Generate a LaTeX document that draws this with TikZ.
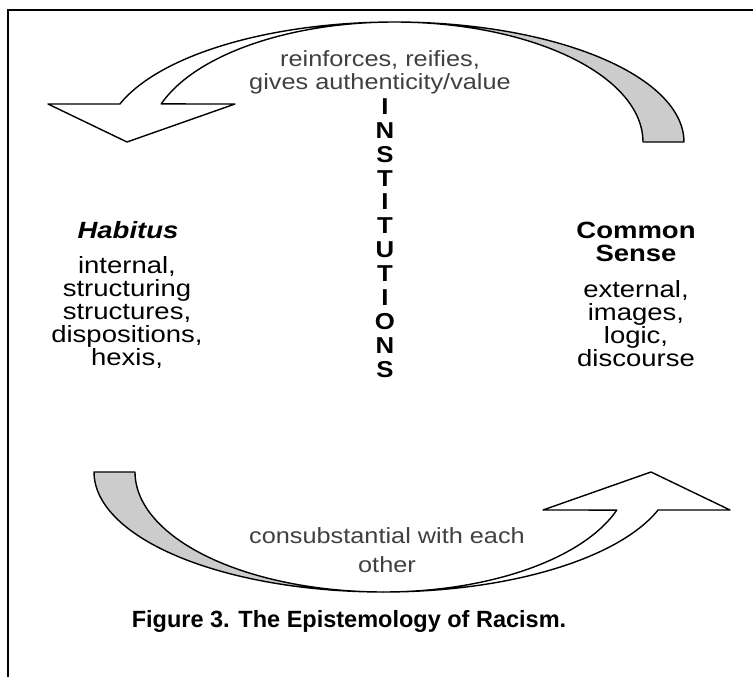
\documentclass[tikz,border=0pt]{standalone}
\usepackage{fontspec}
\setmainfont{Liberation Sans}
\definecolor{labelgray}{RGB}{64,64,64}
\definecolor{backface}{RGB}{204,204,204}
\begin{document}
\begin{tikzpicture}[x=1pt,y=-1pt,
  bodytext/.style={inner sep=0pt,align=center,xscale=1.17,font=\fontsize{23.5}{23}\selectfont},
  graylabel/.style={inner sep=0pt,align=center,xscale=1.15,text=labelgray,font=\fontsize{22}{23}\selectfont},
  bandline/.style={draw=black,line width=1.4pt,line join=round}]
\useasboundingbox (0,0) rectangle (753,677);
% frame (top and left rules)
\draw[line width=2pt] (8,677) -- (8,10) -- (753,10);

% one curved arrow: gray back strip plus white front strip with its head
\newcommand{\curvedarrow}{%
  \filldraw[bandline,fill=backface]
    plot[domain=90:0,samples=60] ({394.5+289.5*cos(\x)},{142-120*sin(\x)})
    -- (643,142)
    -- plot[domain=0:90,samples=60] ({394.5+248.5*cos(\x)},{142-120*sin(\x)});
  \filldraw[bandline,fill=white]
    (48,104) -- (120,104)
    -- plot[domain=161.5:90,samples=60] ({394.5+289.5*cos(\x)},{142-120*sin(\x)})
    -- plot[domain=90:161.5,samples=60] ({394.5+246*cos(\x)},{142-120*sin(\x)})
    -- (235,104) -- (127,142) -- cycle;}

\curvedarrow
\begin{scope}[rotate around={180:(389,307)}]
\curvedarrow
\end{scope}

% labels on the arrows
\node[graylabel] (toplabel) at (380,72) {reinforces, reifies,\\gives authenticity/value};
\node[graylabel,font=\fontsize{22}{29}\selectfont] (bottomlabel) at (387,550) {consubstantial with each\\other};

% centre column
\node[inner sep=0pt,align=center,xscale=1.12,font=\fontsize{23}{23.9}\selectfont\bfseries] (inst) at (385,238)
  {I\\N\\S\\T\\I\\T\\U\\T\\I\\O\\N\\S};

% left block
\node[bodytext,font=\fontsize{23.5}{23}\selectfont\bfseries\itshape] (habitus) at (128,230) {Habitus};
\node[bodytext] (habitustext) at (127,312) {internal,\\structuring\\structures,\\dispositions,\\hexis,};

% right block
\node[bodytext,font=\fontsize{23.5}{23}\selectfont\bfseries] (common) at (636,241.5) {Common\\Sense};
\node[bodytext] (commontext) at (636,324) {external,\\images,\\logic,\\discourse};

% caption
\node[inner sep=0pt,font=\fontsize{23.5}{26}\selectfont\bfseries] (caption) at (349,621)
  {Figure 3. The Epistemology of Racism.};
\end{tikzpicture}
\end{document}
